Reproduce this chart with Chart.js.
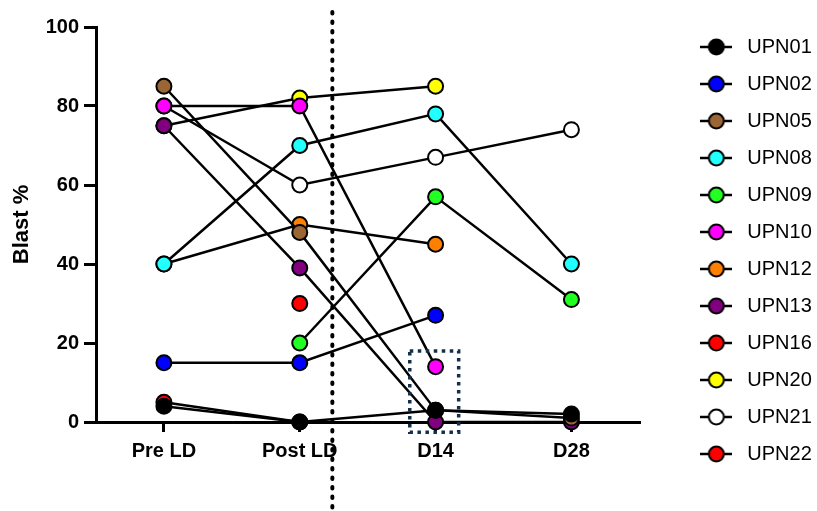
<!DOCTYPE html>
<html>
<head>
<meta charset="utf-8">
<script src="https://cdn.jsdelivr.net/npm/chart.js@4.4.1/dist/chart.umd.min.js"></script>
<style>
html,body{margin:0;padding:0;background:#ffffff;}
canvas{display:block;}
</style>
</head>
<body>
<canvas id="c" width="817" height="511"></canvas>
<script>
// ---- data ----
const categories = ['Pre LD', 'Post LD', 'D14', 'D28'];
const patientIds = ['UPN01','UPN02','UPN05','UPN08','UPN09','UPN10','UPN12','UPN13','UPN16','UPN20','UPN21','UPN22'];
const UPN01 = [4, 0, 3, 2];
const UPN02 = [15, 15, 27, null];
const UPN05 = [85, 48, 3, 1];
const UPN08 = [40, 70, 78, 40];
const UPN09 = [null, 20, 57, 31];
const UPN10 = [80, 80, 14, null];
const UPN12 = [40, 50, 45, null];
const UPN13 = [75, 39, 0, 0];
const UPN16 = [null, 30, null, null];
const UPN20 = [75, 82, 85, null];
const UPN21 = [80, 60, 67, 74];
const UPN22 = [5, 0, null, null];
const yTicks = [0, 20, 40, 60, 80, 100];

const seriesValues = [UPN01, UPN02, UPN05, UPN08, UPN09, UPN10, UPN12, UPN13, UPN16, UPN20, UPN21, UPN22];
const pointColors = ['#000000','#0000FF','#9B6634','#22FFFF','#22FF22','#FF00FF','#FF8000','#800080','#FF0000','#FFFF00','#FFFFFF','#FF0000'];

const FONT = "'Liberation Sans', Arial, Helvetica, sans-serif";

function legendIcon(color) {
  const c = document.createElement('canvas');
  c.width = 32; c.height = 20;
  const g = c.getContext('2d');
  g.strokeStyle = '#000';
  g.lineWidth = 2.5;
  g.beginPath(); g.moveTo(0, 10); g.lineTo(32, 10); g.stroke();
  g.beginPath(); g.arc(16, 10, 7.5, 0, Math.PI * 2);
  g.fillStyle = color; g.fill();
  g.lineWidth = 2; g.stroke();
  return c;
}
const icons = pointColors.map(legendIcon);

const datasets = patientIds.map((id, i) => ({
  label: id,
  data: seriesValues[i],
  borderColor: '#000000',
  backgroundColor: pointColors[i],
  borderWidth: 2.5,
  pointBackgroundColor: pointColors[i],
  pointBorderColor: '#000000',
  pointBorderWidth: 2,
  pointRadius: 7.5,
  pointHoverRadius: 7.5,
  fill: false,
  tension: 0,
  spanGaps: false,
  clip: false
}));

const annotations = {
  id: 'annotations',
  beforeDatasetsDraw(chart) {
    const ctx = chart.ctx;
    const xs = chart.scales.x;
    const x = xs.getPixelForValue(1.24);
    ctx.save();
    ctx.strokeStyle = '#000000';
    ctx.lineWidth = 4;
    ctx.lineCap = 'round';
    ctx.setLineDash([1.5, 8]);
    ctx.beginPath();
    ctx.moveTo(x, 12);
    ctx.lineTo(x, chart.height);
    ctx.stroke();
    ctx.restore();
  },
  afterDatasetsDraw(chart) {
    const ctx = chart.ctx;
    const xs = chart.scales.x, ys = chart.scales.y;
    const l = xs.getPixelForValue(1.81), r = xs.getPixelForValue(2.17);
    const t = ys.getPixelForValue(18), b = ys.getPixelForValue(-2.6);
    ctx.save();
    ctx.strokeStyle = '#132f4a';
    ctx.lineWidth = 3.5;
    ctx.setLineDash([3.5, 4.5]);
    ctx.strokeRect(l, t, r - l, b - t);
    ctx.restore();
  }
};

new Chart(document.getElementById('c'), {
  type: 'line',
  data: { labels: categories, datasets },
  options: {
    responsive: false,
    animation: false,
    events: [],
    layout: { padding: { top: 20, right: 3, bottom: 0, left: 0 } },
    plugins: {
      tooltip: { enabled: false },
      legend: {
        position: 'right',
        align: 'start',
        labels: {
          usePointStyle: true,
          pointStyleWidth: 42,
          padding: 17,
          color: '#000000',
          font: { family: FONT, size: 20 },
          generateLabels(chart) {
            const items = Chart.defaults.plugins.legend.labels.generateLabels(chart);
            items.forEach(it => { it.pointStyle = icons[it.datasetIndex]; });
            return items;
          }
        }
      }
    },
    scales: {
      x: {
        type: 'category',
        offset: true,
        grid: { display: true, drawOnChartArea: false, drawTicks: true, tickLength: 10, lineWidth: 3, color: '#000000', offset: false },
        border: { display: true, width: 3, color: '#000000' },
        ticks: { color: '#000000', font: { family: FONT, size: 20, weight: 'bold' }, padding: 7, maxRotation: 0, autoSkip: false },
        afterFit(s) { s.height = 89; }
      },
      y: {
        min: 0, max: 100,
        afterBuildTicks(s) { s.ticks = yTicks.map(v => ({ value: v })); },
        grid: { drawOnChartArea: false, tickLength: 12, lineWidth: 3, color: '#000000' },
        border: { display: true, width: 3, color: '#000000' },
        ticks: { color: '#000000', font: { family: FONT, size: 20, weight: 'bold' }, padding: 5 },
        title: { display: true, text: 'Blast %', color: '#000000', font: { family: FONT, size: 22, weight: 'bold' }, padding: { top: 9, bottom: 0 } },
        afterFit(s) { s.width = 96; s.paddingTop = 27; }
      },
      spacer: {
        type: 'linear',
        position: 'right',
        display: true,
        grid: { display: false },
        border: { display: false },
        ticks: { display: false },
        afterFit(s) { s.width = 39; }
      }
    }
  },
  plugins: [annotations]
});
</script>
</body>
</html>
